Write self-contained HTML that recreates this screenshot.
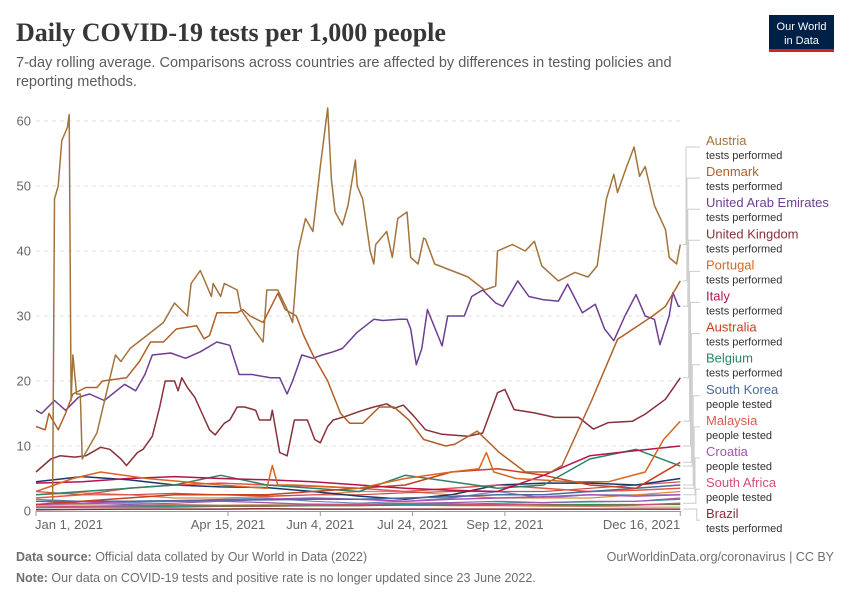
<!DOCTYPE html>
<html><head><meta charset="utf-8"><style>
body{margin:0;background:#fff;font-family:"Liberation Sans",sans-serif;}
svg text{font-family:"Liberation Sans",sans-serif;}
</style></head><body>
<svg width="850" height="600" viewBox="0 0 850 600">
<text x="16" y="41" font-family="Liberation Serif" font-weight="bold" font-size="26" fill="#373737" style="font-family:'Liberation Serif',serif">Daily COVID-19 tests per 1,000 people</text>
<text x="16" y="67" font-size="14.5" fill="#5b5b5b">7-day rolling average. Comparisons across countries are affected by differences in testing policies and</text>
<text x="16" y="86" font-size="14.5" fill="#5b5b5b">reporting methods.</text>
<g>
<rect x="769" y="15" width="65" height="36" fill="#002147"/>
<rect x="769" y="49" width="65" height="3" fill="#ce261e"/>
<text x="801.5" y="30" font-size="11" fill="#fff" text-anchor="middle">Our World</text>
<text x="801.5" y="44" font-size="11" fill="#fff" text-anchor="middle">in Data</text>
</g>
<g id="grid"></g>
<g id="series"></g>
<g id="legend"></g>
<text x="16" y="561" font-size="12.5" fill="#6e6e6e"><tspan font-weight="bold">Data source:</tspan> Official data collated by Our World in Data (2022)</text>
<text x="834" y="561" font-size="12.5" fill="#6e6e6e" text-anchor="end">OurWorldinData.org/coronavirus | CC BY</text>
<text x="16" y="582" font-size="12.5" fill="#6e6e6e"><tspan font-weight="bold">Note:</tspan> Our data on COVID-19 tests and positive rate is no longer updated since 23 June 2022.</text>
</svg>
<script>
const NS="http://www.w3.org/2000/svg";
const yTicks=[0,10,20,30,40,50,60];
const xTickDays=[0,104,154,204,254,349];
const xTickLabels=["Jan 1, 2021","Apr 15, 2021","Jun 4, 2021","Jul 24, 2021","Sep 12, 2021","Dec 16, 2021"];
const D=[0,25,50,75,100,125,150,175,200,225,250,275,300,325,349];
const austriaDays=[9,10,12,14,17,18,19,20,22,24,25,27,33,43,46,51,60,69,75,82,84,89,95,96,100,102,109,111,118,123,125,131,136,139,142,146,150,154,158,160,162,166,169,173,174,177,181,183,184,190,193,196,201,203,207,210,211,216,225,234,243,249,250,258,265,270,274,283,292,299,304,309,313,315,320,324,327,330,335,341,343,347,349];
const austriaVals=[1,48,50,57,59,61,17,24,18,18,8,9,12,24,23,25,27,29,32,30,35,37,33,35,33,35,34,31,28,26,34,34,31,29,40,45,43,53,62,51,46,44,47,54,50,48,40,38,41,43,39,45,46,39,38,42,41.8,38,37,36,34,34.6,40,41,40,41.5,37.7,35.4,36.7,36,37.7,48,51.8,49,53,56,51.5,53,47,43.3,39,38,41];
const denmarkDays=[0,5,7,12,16,20,27,33,36,49,56,62,69,76,87,91,94,98,109,112,116,123,131,135,141,145,150,158,165,170,177,186,194,202,210,222,227,239,251,265,279,285,301,315,334,341,349];
const denmarkVals=[13,12.5,15,12.5,15,18,19,19,20,20.5,23,26,26,28,28.5,26.5,27,30.5,30.5,31,30,29,33.5,31,30,27,24,20,15,13.5,13.5,16,16,14,11,10,10.3,12.3,9,6,6,7,17,26.4,30,31.5,35.4];
const uaeDays=[0,3,10,16,23,29,37,48,54,59,63,73,81,89,98,105,110,117,127,132,136,139,144,150,155,161,166,174,183,188,197,201,203,206,209,212,220,223,232,236,242,249,253,261,267,275,283,288,296,303,308,313,319,325,330,335,338,343,345,348,349];
const uaeVals=[15.5,15,17,15.5,17.5,18,17,19.5,18.5,21,24,24.3,23.5,24.5,26,25.5,21,21,20.5,20.5,18,20,24,23.5,24,24.5,25,27.5,29.5,29.3,29.5,29.5,28,22.5,25,31,25.4,30,30,33,34,32,31.5,35.4,33,32.5,32.3,34.9,30.5,31.8,28,26.2,30,33.3,30,29.5,25.6,30,33.6,31.5,31.5];
const ukDays=[0,8,13,21,27,35,40,46,49,55,58,63,67,70,75,77,79,82,86,90,94,97,102,105,109,113,119,121,127,128,132,136,140,147,151,154,158,161,167,177,183,190,194,199,205,211,220,234,242,250,254,259,270,281,294,302,310,323,330,341,349];
const ukVals=[6,8,8.5,8.3,8.5,9.8,9.5,8,7,9,9.5,11.5,16,20,20,18.5,20.5,19,17.5,15,12.5,11.7,13.5,14,16,16,15.5,14,14,15.5,9,8.5,14,14,11,10.5,13,14,14.5,15.5,16,16.5,15.8,16.3,14.5,12.5,11.8,11.5,12,18.2,18.7,15.6,15.1,14.4,14.4,12.6,13.6,13.8,14.9,17.2,20.5];
const portugalDays=[0,20,35,60,100,125,128,131,140,175,200,225,240,244,248,260,290,310,330,340,349];
const portugalVals=[3,5,6,5,4,3.5,7,4,4,3.5,5,6,6.5,9,6,5,4.5,4.5,6,11,13.8];
const italyVals=[4.3,4.5,5,5.3,5,4.8,4.5,4,3.5,3.2,3,5.5,8.5,9.3,10];
const australiaVals=[1,1.5,2,2.5,2.5,2.5,3,3.5,4,6,6.5,5.5,4,3.5,7.5];
const belgiumVals=[2.5,3,3.5,4,5.5,4,3.5,3,5.5,4.5,3.5,4,8,9.5,6.9];
const koreaVals=[1.5,1.5,1.5,1.6,1.7,1.7,1.8,1.8,2,2.2,2.5,2.5,3,3.5,4];
const malaysiaVals=[2,2.5,3.5,4,4.3,4,3.8,3.5,3,3.5,4,3.5,3,3.2,3.5];
const croatiaVals=[1,1.2,1.5,1.5,1.5,1.8,2,1.8,1.5,1.8,2,2.2,2.5,2.3,2.5];
const southAfricaVals=[0.6,0.7,0.8,0.9,0.8,0.8,0.9,1,1.2,1.1,1,0.9,0.8,0.9,1.2];
const brazilVals=[0.2,0.25,0.3,0.3,0.3,0.35,0.3,0.3,0.3,0.3,0.3,0.3,0.3,0.3,0.3];
const otherNavyVals=[4.5,5.3,4.8,4,3.7,3.6,3,2.3,1.8,2.5,4,4.3,4.3,4,5];
const otherTealVals=[0.5,0.6,0.7,0.8,0.8,0.8,0.9,0.9,1,1,1.2,1.3,1.4,1.5,1.8];
const otherGreenVals=[0.6,0.6,0.6,0.6,0.7,0.7,0.8,0.8,0.9,0.9,0.9,1,1,1,1];
const otherSlateVals=[1.8,1.5,1.3,1.5,1.8,2,1.5,1.2,1.5,2,3,2,2.5,2.5,2.5];
const otherOrangeVals=[2.5,2.8,2.5,2,2,2.2,2.5,3,3,2.5,2,2,2,2.5,3];
const otherPurpleVals=[1.5,1.2,1,1.2,1.5,1.3,1,1,1.2,1.3,1.5,1.3,1.5,1.5,2];
const otherRedVals=[3,2.5,2.5,2.7,2.5,2.3,2.5,2.5,2.8,3,3,3,3.5,4,4.5];
const otherTanVals=[0.8,1,1.2,1,0.9,1,1.1,1,0.9,0.8,0.8,0.7,0.7,0.6,0.6];

const x=d=>36+d*1.846;
const y=v=>511-v*6.5;
function el(t,a,p){const e=document.createElementNS(NS,t);for(const k in a)e.setAttribute(k,a[k]);p.appendChild(e);return e;}
const grid=document.getElementById('grid');
yTicks.forEach(v=>{
  if(v>0){const l=el('line',{x1:36,x2:681,y1:y(v),y2:y(v),stroke:'#ddd','stroke-dasharray':'4,4'},grid);
  
  }
  const t=el('text',{x:31,y:y(v)+4.5,'text-anchor':'end','font-size':13,fill:'#666'},grid);t.textContent=v;
  
  
});
const ax=el('line',{x1:36,x2:681,y1:511.5,y2:511.5,stroke:'#999'},grid);


xTickDays.forEach((d,i)=>{
  el('line',{x1:x(d),x2:x(d),y1:511,y2:516,stroke:'#999'},grid);
  const last=i==xTickDays.length-1;
  const t=el('text',{x:x(d),y:529,'text-anchor':i==0?'start':(last?'end':'middle'),'font-size':13,fill:'#666'},grid);
  if(i==0)t.setAttribute('x',x(d)-1);
  t.textContent=xTickLabels[i];
  
  
});
const sg=document.getElementById('series');
function draw(name,days,vals,color,w){
  const n=Math.min(days.length,vals.length);let pts=[];
  for(let i=0;i<n;i++)pts.push(x(days[i]).toFixed(1)+','+y(vals[i]).toFixed(1));
  const p=el('polyline',{points:pts.join(' '),fill:'none',stroke:color,'stroke-width':w||1.5,'stroke-linejoin':'round'},sg);
  
  
  return y(vals[n-1]);
}
draw('line-other-tan',D,otherTanVals,'#c4a57a',1.2);
draw('line-other-green',D,otherGreenVals,'#3a8a3a',1.2);
draw('line-other-teal',D,otherTealVals,'#1a9a9a',1.2);
draw('line-other-purple',D,otherPurpleVals,'#9a5aa8',1.2);
draw('line-other-slate',D,otherSlateVals,'#6a8ab8',1.2);
draw('line-other-orange',D,otherOrangeVals,'#e08a3a',1.2);
draw('line-other-red',D,otherRedVals,'#d04a4a',1.2);
draw('line-other-navy',D,otherNavyVals,'#18376b',1.5);
const legend=[
 ['Austria','tests performed','#a2743c',austriaDays,austriaVals],
 ['Denmark','tests performed','#b0602a',denmarkDays,denmarkVals],
 ['United Arab Emirates','tests performed','#6d3e91',uaeDays,uaeVals],
 ['United Kingdom','tests performed','#883039',ukDays,ukVals],
 ['Portugal','tests performed','#d9661f',portugalDays,portugalVals],
 ['Italy','tests performed','#b5134f',D,italyVals],
 ['Australia','tests performed','#c8401f',D,australiaVals],
 ['Belgium','tests performed','#2c8465',D,belgiumVals],
 ['South Korea','people tested','#4c6a9c',D,koreaVals],
 ['Malaysia','people tested','#e0584d',D,malaysiaVals],
 ['Croatia','people tested','#a652ba',D,croatiaVals],
 ['South Africa','people tested','#d14f73',D,southAfricaVals],
 ['Brazil','tests performed','#8c2e3a',D,brazilVals]
];
const lg=document.getElementById('legend');
for(let i=legend.length-1;i>=0;i--){
  const [n,s,c,d,v]=legend[i];
  const ey=draw('line-'+n.toLowerCase().replace(/ /g,'-'),d,v,c,1.5);
  const ly=147+i*31.1;
  const ex=686+Math.min(i,12)*0.9;
  const cn=el('polyline',{points:`683,${ey} ${ex},${ey} ${ex},${ly} 700,${ly}`,fill:'none',stroke:'#ccc','stroke-width':1},lg);
  
  
  const g=el('g',{},lg);
  
  
  const t1=el('text',{x:706,y:ly-2,'font-size':13,fill:c},g);t1.textContent=n;
  const t2=el('text',{x:706,y:ly+12,'font-size':11,fill:'#333'},g);t2.textContent=s;
}
</script>
</body></html>
